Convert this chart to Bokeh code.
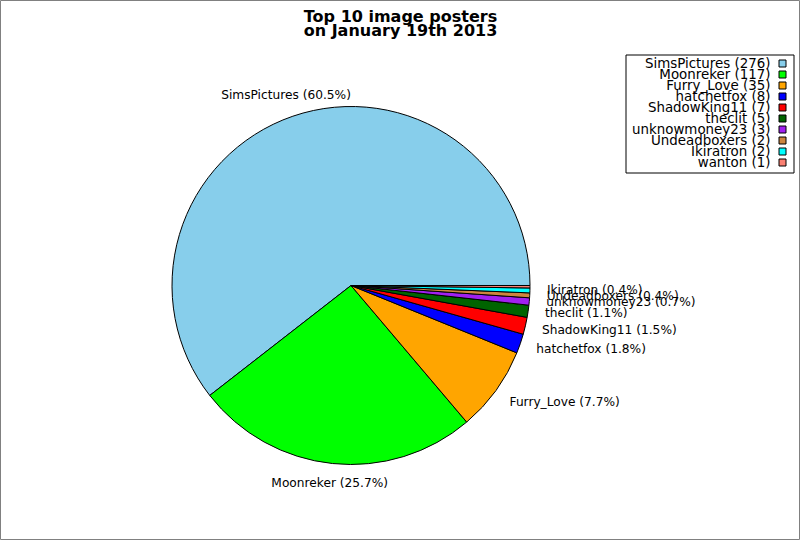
import numpy as np
from bokeh.plotting import figure
from bokeh.models import Range1d, ColumnDataSource
from bokeh.embed import file_html
from bokeh.resources import INLINE
from bokeh.core.properties import value

# ---- data ----
names = ["SimsPictures", "Moonreker", "Furry_Love", "hatchetfox", "ShadowKing11",
         "theclit", "unknowmoney23", "Undeadboxers", "Ikiratron", "wanton"]
counts = [276, 117, 35, 8, 7, 5, 3, 2, 2, 1]
colors = ["#87CEEB", "#00FF00", "#FFA500", "#0000FF", "#FF0000",
          "#006400", "#A020F0", "#CD853F", "#00FFFF", "#FA8072"]
title_lines = ["Top 10 image posters", "on January 19th 2013"]

# ---- layout (reference pixel coords) ----
W, H = 800, 540
OFF = 0
def X(px): return px - OFF
def Y(py): return H - (py - OFF)

CX, CY, R = 350.5, 285.0, 179.0
LRX, LRY = 197.0, 200.0
FONT = value("DejaVu Sans")

p = figure(width=W, height=H, x_range=Range1d(0, W), y_range=Range1d(0, H),
           output_backend="svg", toolbar_location=None, min_border=0,
           x_axis_location=None, y_axis_location=None)
p.grid.visible = False
p.outline_line_color = "#808080"
p.border_fill_color = "white"
p.background_fill_color = "white"

counts_a = np.array(counts, dtype=float)
total = counts_a.sum()
frac = counts_a / total
ends = np.cumsum(frac) * 2 * np.pi
starts = ends - frac * 2 * np.pi

src = ColumnDataSource(dict(start=starts, end=ends, color=colors))
p.wedge(x=X(CX), y=Y(CY), radius=R, start_angle="start", end_angle="end",
        direction="anticlock", fill_color="color", line_color="black",
        line_width=1, source=src)

# slice labels
groups = {"left": dict(x=[], y=[], t=[]), "center": dict(x=[], y=[], t=[]),
          "right": dict(x=[], y=[], t=[])}
for n, f, s, e in zip(names, frac, starts, ends):
    if np.degrees(e - s) < 1.0:
        continue
    m = (s + e) / 2
    c, sn = np.cos(m), np.sin(m)
    px = CX + LRX * c - 1
    py = CY - LRY * sn - 1
    al = "left" if c > 0.5 else ("right" if c < -0.5 else "center")
    groups[al]["x"].append(X(px))
    groups[al]["y"].append(Y(py))
    groups[al]["t"].append(f"{n} ({f*100:.1f}%)")
for al, g in groups.items():
    if g["t"]:
        p.text(x=g["x"], y=g["y"], text=g["t"], text_align=al,
               text_baseline="middle", text_font=FONT, text_font_size="12.2px",
               text_color="black")

# title
tys = [15.5, 29.5]
p.text(x=[X(400)] * 2, y=[Y(t) for t in tys], text=title_lines,
       text_align="center", text_baseline="alphabetic", text_font=FONT,
       text_font_size="16px", text_font_style="bold", text_color="black")

# legend
p.quad(left=X(625.5), right=X(793.5), top=Y(54.5), bottom=Y(172.5),
       fill_color="white", line_color="black", line_width=1)
ly = [Y(63 + 11 * i) for i in range(len(names))]
p.text(x=[X(770)] * len(names), y=ly,
       text=[f"{n} ({c})" for n, c in zip(names, counts)],
       text_align="right", text_baseline="middle", text_font=FONT,
       text_font_size="13.4px", text_color="black")
p.rect(x=[X(782)] * len(names), y=ly, width=7, height=7,
       fill_color=colors, line_color="black", line_width=1)

open("out.html", "w").write(file_html(p, INLINE))
